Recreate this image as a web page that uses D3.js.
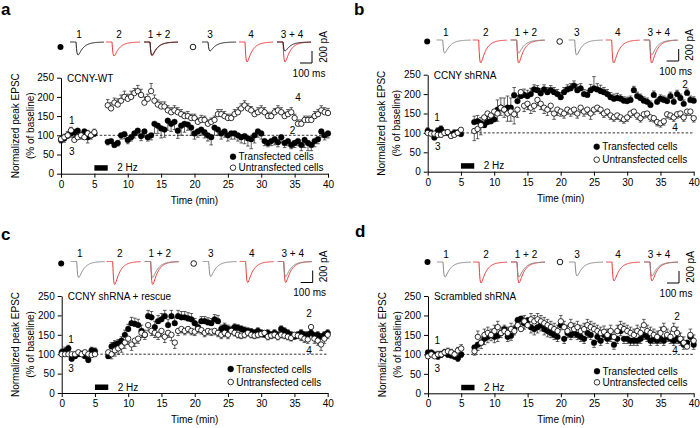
<!DOCTYPE html>
<html><head><meta charset="utf-8">
<script src="https://cdn.jsdelivr.net/npm/d3@7"></script>
<style>
body{margin:0;background:#fff}
svg text{font-family:Arial,"Liberation Sans",sans-serif;fill:#000}
</style>
</head><body>
<svg id="chart" width="700" height="428"></svg>
<script>
// ---------- DATA ----------
const times = [0,0.5,1,1.5,2,2.5,3,3.5,4,4.5,5,
7,7.5,8,8.5,9,9.5,10,10.5,11,11.5,
12,12.5,13,13.5,14,14.5,15,15.5,16,16.5,
17,17.5,18,18.5,19,19.5,20,20.5,21,21.5,
22,22.5,23,23.5,24,24.5,25,25.5,26,26.5,
27,27.5,28,28.5,29,29.5,30,30.5,31,31.5,
32,32.5,33,33.5,34,34.5,35,35.5,36,36.5,
37,37.5,38,38.5,39,39.5,40];
const xTicks = [0,5,10,15,20,25,30,35,40];
const yTicks = [0,50,100,150,200,250];
const panelLetters = ["a","b","c","d"];
const panelTitles = ["CCNY-WT","CCNY shRNA","CCNY shRNA + rescue","Scrambled shRNA"];
const legendLabels = ["Transfected cells","Untransfected cells"];
const traceLabels = ["1","2","1 + 2","3","4","3 + 4"];
const stimLabel = "2 Hz";

// Panel a
const aTrans = [88,92,100,105,108,112,100,110,95,100,105,
83,85,75,80,100,103,88,95,105,112,
98,110,95,100,130,125,118,115,138,130,
135,112,125,130,128,120,105,110,115,108,
100,95,120,115,105,110,100,105,105,100,
95,98,92,90,100,110,105,85,80,85,
90,82,95,80,85,75,80,85,75,88,
80,75,85,90,110,100,105];
const aTransErr = [8,10,8,10,12,8,10,12,15,10,8,
8,6,6,8,10,12,10,10,12,12,
12,15,10,12,25,20,25,20,25,20,
20,20,25,22,15,20,15,15,15,15,
15,20,20,15,15,15,15,15,15,15,
15,20,20,25,20,15,15,12,10,12,
15,12,15,12,12,10,12,12,15,20,
20,15,15,12,15,12,12];
const aUntrans = [90,95,100,113,88,95,100,95,105,100,108,
178,170,185,180,190,200,195,200,210,215,
205,185,195,215,190,180,175,175,165,160,
165,160,155,150,150,145,145,135,140,140,
130,135,140,155,155,150,145,145,155,160,
170,178,170,165,155,160,165,160,150,150,
160,165,160,150,155,160,145,130,130,140,
140,140,150,155,165,160,158];
const aUntransErr = [8,8,10,8,8,8,8,8,8,8,8,
15,15,12,15,15,15,12,15,12,15,
15,15,12,20,15,12,12,12,12,12,
12,12,12,10,12,10,10,10,12,10,
10,10,10,12,12,12,10,10,12,12,
12,12,12,10,10,12,12,12,10,10,
10,12,12,10,12,12,10,10,10,10,
10,10,12,12,12,12,12];

// Panel b
const bTrans = [105,100,88,105,110,100,100,95,100,100,97,
128,130,125,120,128,130,135,160,165,160,
165,165,197,182,195,198,195,200,212,210,
202,212,205,210,205,200,192,205,212,215,
222,210,215,200,198,210,215,212,208,205,
200,192,188,190,188,183,182,185,210,195,
190,183,180,172,198,180,188,185,182,195,
180,200,190,175,203,185,183];
const bTransErr = [8,8,8,8,8,8,8,8,8,8,8,
15,15,15,15,15,15,20,25,25,30,
30,25,20,15,15,15,15,15,12,12,
12,12,12,12,12,12,12,12,12,12,
12,15,12,12,12,15,30,15,15,12,
12,12,12,12,10,10,10,10,10,10,
10,10,10,10,10,10,10,10,10,10,
10,10,10,10,10,10,10];
const bUntrans = [100,98,98,95,95,100,102,92,95,100,108,
105,110,120,140,150,145,155,150,165,160,
150,155,148,160,205,170,175,165,170,185,
175,165,160,170,150,160,155,150,160,155,
160,150,165,155,160,150,160,165,160,150,
155,145,140,145,140,135,140,150,155,145,
138,148,150,140,138,128,125,130,148,145,
140,148,150,140,155,155,138];
const bUntransErr = [5,5,5,5,5,5,5,5,5,5,5,
25,25,25,25,20,20,20,20,20,20,
20,25,25,20,15,15,15,15,15,15,
15,15,15,15,15,15,12,12,12,12,
12,12,12,12,12,15,12,10,10,10,
10,10,10,10,10,10,10,10,10,10,
10,10,10,10,10,10,10,10,10,10,
10,10,10,10,10,10,10];

// Panel c
const cTrans = [105,108,115,88,95,100,100,95,85,110,108,
95,120,125,128,135,150,165,180,178,175,
160,150,198,195,170,185,190,198,175,198,
180,198,195,195,192,190,180,170,185,185,
182,180,190,185,165,170,165,162,170,168,
165,162,160,158,155,160,155,150,155,150,
155,150,165,160,155,150,145,150,155,150,
150,155,148,150,145,150,155];
const cTransErr = [8,10,8,8,8,8,8,8,8,8,8,
10,10,10,10,10,12,12,15,15,15,
15,12,15,15,15,15,15,15,15,15,
15,15,15,15,15,15,12,12,12,12,
12,12,12,15,10,10,10,10,8,8,
8,8,8,8,8,8,8,8,8,8,
8,8,8,8,8,8,8,8,8,8,
8,8,8,8,8,8,8];
const cUntrans = [100,100,100,100,100,105,100,105,100,98,100,
105,100,110,115,120,130,140,125,135,140,
155,150,175,160,155,150,160,145,155,150,
130,160,165,160,165,160,158,165,162,155,
160,158,160,155,150,155,150,160,155,150,
148,150,155,150,148,150,152,155,145,148,
150,145,150,148,145,142,150,148,145,140,
138,170,140,135,125,140,150];
const cUntransErr = [5,5,5,5,5,5,5,5,5,5,5,
12,12,15,15,15,15,15,15,15,12,
12,12,15,12,12,12,15,15,12,15,
15,12,10,10,10,10,10,10,10,10,
10,10,10,10,10,10,10,8,8,8,
8,8,8,8,8,8,8,8,8,8,
8,8,8,8,8,8,8,8,10,10,
10,15,12,12,15,12,10];

// Panel d
const dTrans = [105,105,100,95,100,105,100,98,95,90,100,
118,125,130,140,145,150,145,148,155,165,
145,148,165,188,192,180,188,170,165,170,
175,165,160,155,150,145,175,140,155,150,
155,150,145,140,155,150,130,145,135,150,
140,145,125,140,160,140,140,135,135,135,
140,150,145,135,140,135,140,135,145,140,
135,140,135,125,130,145,125];
const dTransErr = [8,8,8,8,8,8,8,8,8,8,8,
20,15,15,15,15,15,15,15,12,12,
12,12,15,15,15,15,15,15,15,15,
15,15,15,12,12,12,12,12,12,12,
12,12,12,12,12,12,12,12,12,12,
12,12,12,12,12,12,12,12,12,12,
12,12,12,12,12,12,12,12,12,12,
12,12,12,12,12,12,12];
const dUntrans = [95,100,95,100,100,105,108,105,100,110,115,
108,145,130,150,155,150,160,170,155,160,
155,165,160,175,165,185,175,190,185,190,
185,180,175,170,165,160,185,170,160,175,
165,170,160,165,175,170,165,160,155,158,
150,160,145,160,170,165,160,155,150,160,
155,175,160,155,150,145,155,165,150,145,
165,155,140,130,120,150,135];
const dUntransErr = [8,8,8,8,8,8,8,8,8,8,10,
15,15,15,15,15,15,15,15,15,15,
15,15,15,20,20,15,15,15,15,15,
15,15,15,15,15,15,15,15,15,15,
15,15,15,15,15,15,15,15,15,15,
15,15,15,15,15,15,15,15,15,15,
15,15,15,15,15,15,15,15,15,15,
15,15,15,15,15,15,15];

// EPSC trace amplitudes (pA) for traces 1,2,3,4 in each panel
const aAmps = [217,233,150,333];
const bAmps = [217,383,250,383];
const cAmps = [267,383,250,350];
const dAmps = [250,350,233,317];

// Point annotation labels [label, time, value]
const aNotes = [["1",1.6,140],["3",1.6,58],["4",35.5,200],["2",34.7,114]];
const bNotes = [["1",1.4,141],["3",1.5,66],["2",38.7,225],["4",37.2,113]];
const cNotes = [["1",1.4,137],["3",1.4,64],["2",37.2,204],["4",37.2,111]];
const dNotes = [["1",1.4,137],["3",1.4,64],["2",37.5,197],["4",37.2,111]];

// ---------- LAYOUT ----------
const panels = [
  {x0:61,   x1:328,   y0:173.7, yTop:77.7, trans:aTrans, transErr:aTransErr, untrans:aUntrans, untransErr:aUntransErr,
   transDir:-1, amps:aAmps, notes:aNotes, base:42, mDy:5, legDx:172, legDy:[-17,-6], letter:[1,15], dark:true},
  {x0:427.7,x1:693.7, y0:171.7, yTop:74.7, trans:bTrans, transErr:bTransErr, untrans:bUntrans, untransErr:bUntransErr,
   transDir:1, amps:bAmps, notes:bNotes, base:40, mDy:1.5, legDx:169, legDy:[-25,-12], letter:[354,15], dark:false},
  {x0:61.7, x1:327.7, y0:393,   yTop:296,  trans:cTrans, transErr:cTransErr, untrans:cUntrans, untransErr:cUntransErr,
   transDir:1, amps:cAmps, notes:cNotes, base:261.5, mDy:2, legDx:169, legDy:[-24,-11], letter:[1,240], dark:false},
  {x0:428,  x1:693.7, y0:393.3, yTop:296,  trans:dTrans, transErr:dTransErr, untrans:dUntrans, untransErr:dUntransErr,
   transDir:-1, amps:dAmps, notes:dNotes, base:262, mDy:0, legDx:169, legDy:[-22,-11], letter:[355,237], dark:false}
];

const svg = d3.select("#chart");
const RED = "#ec3a3a";

function tracePoints(dipX, base, ampPx) {
  const tr = 0.9, td = 5.2;
  const peakT = (tr*td/(td-tr))*Math.log(td/tr);
  const norm = Math.exp(-peakT/td) - Math.exp(-peakT/tr);
  const onset = dipX - peakT;
  const pts = [];
  for (let px = dipX - 8; px <= dipX + 26; px += 0.5) {
    let v = 0;
    if (px > onset) { const t = px - onset; v = (Math.exp(-t/td) - Math.exp(-t/tr))/norm; }
    pts.push([px, base + v*ampPx]);
  }
  return pts;
}

panels.forEach((p, i) => {
  const g = svg.append("g");
  const x = d3.scaleLinear().domain([0,40]).range([p.x0, p.x1]);
  const y = d3.scaleLinear().domain([0,250]).range([p.y0, p.yTop]);

  g.append("text").attr("x", p.letter[0]).attr("y", p.letter[1])
    .style("font-size","17px").style("font-weight","bold").text(panelLetters[i]);

  const xa = g.append("g").attr("transform",`translate(0,${p.y0})`)
    .call(d3.axisBottom(x).tickValues(xTicks).tickSize(4).tickSizeOuter(0).tickPadding(3));
  const ya = g.append("g").attr("transform",`translate(${p.x0},0)`)
    .call(d3.axisLeft(y).tickValues(yTicks).tickSize(4).tickSizeOuter(0).tickPadding(3));
  [xa, ya].forEach(a => {
    a.selectAll("text").style("font-size","10px").style("font-family","Arial, 'Liberation Sans', sans-serif");
    a.selectAll("path,line").attr("stroke","#000").attr("stroke-width",1);
  });

  g.append("text").attr("x",(p.x0+p.x1)/2).attr("y",p.y0+30).attr("text-anchor","middle")
    .style("font-size","10px").text("Time (min)");
  const yc = (p.y0+p.yTop)/2;
  g.append("text").attr("transform",`translate(${p.x0-42.5},${yc}) rotate(-90)`).attr("text-anchor","middle")
    .style("font-size","10px").text("Normalized peak EPSC");
  g.append("text").attr("transform",`translate(${p.x0-27.5},${yc}) rotate(-90)`).attr("text-anchor","middle")
    .style("font-size","10px").text("(% of baseline)");

  g.append("line").attr("x1",x(0)).attr("x2",x(40)).attr("y1",y(100)).attr("y2",y(100))
    .attr("stroke","#000").attr("stroke-width",0.8).attr("stroke-dasharray","2.5,1.8");

  g.append("text").attr("x",p.x0+6).attr("y",p.yTop+4).style("font-size","10px").text(panelTitles[i]);

  g.append("rect").attr("x",x(5)).attr("width",x(7)-x(5)).attr("y",p.y0-8.5).attr("height",5.5).attr("fill","#000");
  g.append("text").attr("x",x(7)+9.5).attr("y",p.y0-2.3).style("font-size","10px").text(stimLabel);

  const series = [
    {vals:p.trans, err:p.transErr, dir:p.transDir, filled:true},
    {vals:p.untrans, err:p.untransErr, dir:-p.transDir, filled:false}
  ];
  series.forEach(s => {
    const d = times.map((t,k)=>({t, v:s.vals[k], e:s.err[k]}))
      .filter(q => Number.isFinite(q.v) && Number.isFinite(q.e));
    const eg = g.append("g").attr("stroke","#222").attr("stroke-width",0.7);
    eg.selectAll("line.v").data(d).join("line").attr("class","v")
      .attr("x1",q=>x(q.t)).attr("x2",q=>x(q.t))
      .attr("y1",q=>y(q.v)).attr("y2",q=>y(q.v + s.dir*q.e));
    eg.selectAll("line.c").data(d).join("line").attr("class","c")
      .attr("x1",q=>x(q.t)-1.8).attr("x2",q=>x(q.t)+1.8)
      .attr("y1",q=>y(q.v + s.dir*q.e)).attr("y2",q=>y(q.v + s.dir*q.e));
  });
  series.forEach(s => {
    const d = times.map((t,k)=>({t, v:s.vals[k]})).filter(q => Number.isFinite(q.v));
    g.append("g").selectAll("circle").data(d).join("circle")
      .attr("cx",q=>x(q.t)).attr("cy",q=>y(q.v))
      .attr("r", s.filled ? 2.9 : 2.7)
      .attr("fill", s.filled ? "#000" : "#fff")
      .attr("stroke","#000").attr("stroke-width", s.filled ? 0.3 : 0.8);
  });

  p.notes.forEach(n => {
    g.append("text").attr("x",x(n[1])).attr("y",y(n[2])+3.6).attr("text-anchor","middle")
      .style("font-size","10px").text(n[0]);
  });

  const lx = p.x0 + p.legDx;
  [0,1].forEach(k => {
    const ly = p.y0 + p.legDy[k];
    g.append("circle").attr("cx",lx).attr("cy",ly).attr("r",k===0?3:2.8)
      .attr("fill",k===0?"#000":"#fff").attr("stroke","#000").attr("stroke-width",k===0?0.3:0.8);
    g.append("text").attr("x",lx+5.5).attr("y",ly+3.6).style("font-size","10px").text(legendLabels[k]);
  });

  g.append("circle").attr("cx",p.x0-0.5).attr("cy",p.base+p.mDy).attr("r",3).attr("fill","#000");
  g.append("circle").attr("cx",p.x0+132).attr("cy",p.base+p.mDy).attr("r",2.8).attr("fill","#fff")
    .attr("stroke","#000").attr("stroke-width",0.9);

  const dips = [17,53,91,149,186,224];
  const labelX = [18,58,98,149,190,231];
  traceLabels.forEach((lb,k)=>{
    g.append("text").attr("x",p.x0+labelX[k]).attr("y",p.base-4.5).attr("text-anchor","middle")
      .style("font-size","10px").text(lb);
  });
  const pxPerPA = 12/200;
  const line = d3.line();
  const grey = p.dark ? "#222" : "#8a8a8a";
  const drawTrace = (dip, amp, color) => {
    g.append("path").attr("d", line(tracePoints(p.x0+dip, p.base, amp*pxPerPA)))
      .attr("fill","none").attr("stroke",color).attr("stroke-width",1);
  };
  drawTrace(dips[0], p.amps[0], grey);
  drawTrace(dips[1], p.amps[1], RED);
  drawTrace(dips[2], p.amps[1], RED);
  drawTrace(dips[2], p.amps[0], grey);
  drawTrace(dips[3], p.amps[2], grey);
  drawTrace(dips[4], p.amps[3], RED);
  drawTrace(dips[5], p.amps[3], RED);
  drawTrace(dips[5], p.amps[2], grey);

  const sbx = p.x0 + 251;
  g.append("path").attr("d",`M${sbx},${p.base+9}V${p.base+21}H${sbx-12}`)
    .attr("fill","none").attr("stroke","#000").attr("stroke-width",1);
  g.append("text").attr("transform",`translate(${p.x0+265.5},${p.base+5}) rotate(-90)`).attr("text-anchor","middle")
    .style("font-size","10px").text("200 pA");
  g.append("text").attr("x",p.x0+248).attr("y",p.base+34.5).attr("text-anchor","middle")
    .style("font-size","10px").text("100 ms");
});
</script>
</body></html>
